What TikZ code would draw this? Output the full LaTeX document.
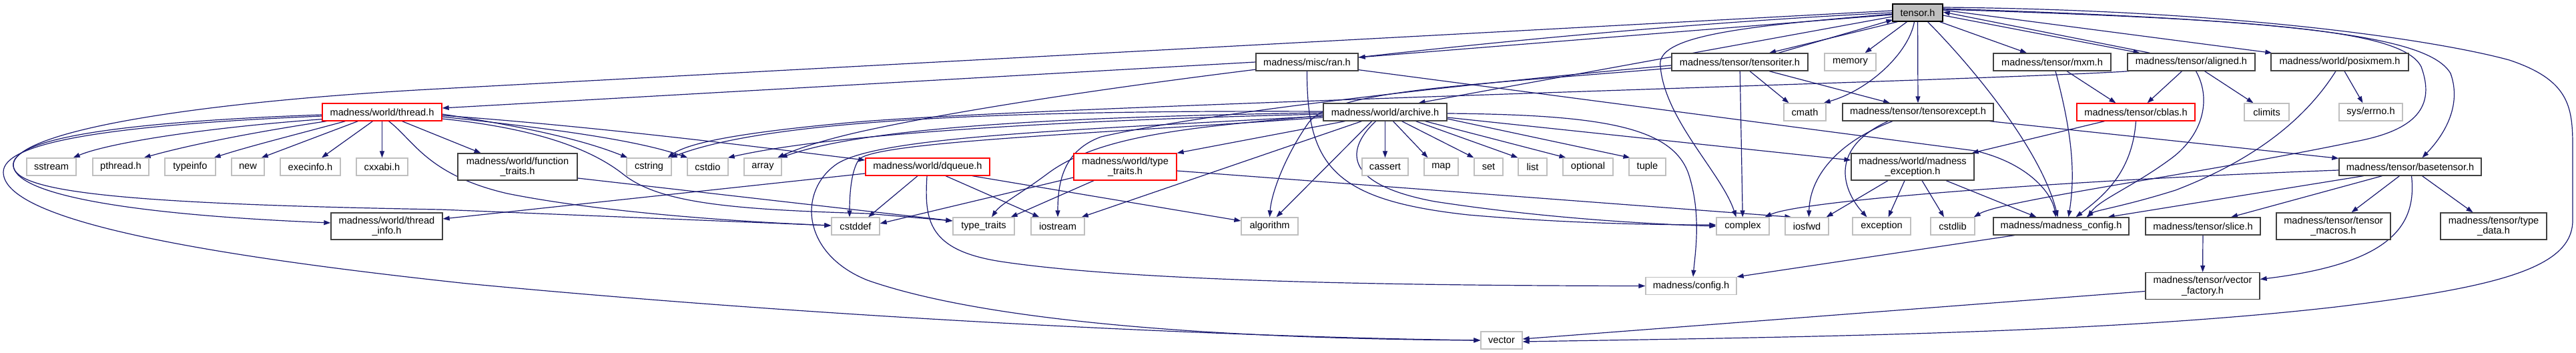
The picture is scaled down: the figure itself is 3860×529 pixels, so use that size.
\documentclass[tikz,border=0pt]{standalone}
\usepackage{fontspec}
\setmainfont{Liberation Sans}
\usetikzlibrary{arrows.meta}
\definecolor{edgeblue}{HTML}{191970}
\definecolor{greyA}{HTML}{404040}
\definecolor{greyB}{HTML}{BFBFBF}
\pgfdeclarelayer{bg}
\pgfsetlayers{bg,main}
\tikzset{
  nd/.style={rectangle, inner sep=0pt, align=center, fill=white, line width=1.3pt,
    font=\fontsize{14.6}{15.5}\selectfont},
  nodeDoc/.style={nd, draw=greyA},
  nodeExt/.style={nd, draw=greyB},
  nodeRed/.style={nd, draw=red},
  nodeRoot/.style={nd, draw=black, fill=greyB},
  one/.style={minimum height=26pt},
  two/.style={minimum height=40pt},
  edg/.style={draw=edgeblue, line width=1.2pt, -{Triangle[length=10pt,width=7pt]}}
}
\begin{document}
\begin{tikzpicture}[x=1pt,y=-1pt]
\useasboundingbox (0,0) rectangle (3860,529);
% row 0
\node[nodeRoot,one,minimum width=75pt] (T) at (2873.5,19) {tensor.h};
% row 1
\node[nodeDoc,one,minimum width=153pt] (ran) at (1958.5,93) {madness/misc/ran.h};
\node[nodeDoc,one,minimum width=204pt] (titer) at (2607,93) {madness/tensor/tensoriter.h};
\node[nodeExt,one,minimum width=77pt] (memory) at (2772.5,93) {memory};
\node[nodeDoc,one,minimum width=176pt] (mxm) at (3075,93) {madness/tensor/mxm.h};
\node[nodeDoc,one,minimum width=191pt] (aligned) at (3283.5,93) {madness/tensor/aligned.h};
\node[nodeDoc,one,minimum width=206pt] (posix) at (3506,93) {madness/world/posixmem.h};
% row 2
\node[nodeRed,one,minimum width=179pt] (thread) at (572.5,168) {madness/world/thread.h};
\node[nodeDoc,one,minimum width=185pt] (archive) at (2075.5,168) {madness/world/archive.h};
\node[nodeExt,one,minimum width=63pt] (cmath) at (2704.5,168) {cmath};
\node[nodeDoc,one,minimum width=226pt] (texcept) at (2874,168) {madness/tensor/tensorexcept.h};
\node[nodeRed,one,minimum width=177pt] (cblas) at (3200.5,168) {madness/tensor/cblas.h};
\node[nodeExt,one,minimum width=67pt] (climits) at (3396.5,168) {climits};
\node[nodeExt,one,minimum width=95pt] (errno) at (3552.5,168) {sys/errno.h};
% row 3
\node[nodeExt,one,minimum width=74pt] (sstream) at (77,250) {sstream};
\node[nodeExt,one,minimum width=84pt] (pthread) at (181,250) {pthread.h};
\node[nodeExt,one,minimum width=76pt] (typeinfo) at (285,250) {typeinfo};
\node[nodeExt,one,minimum width=49pt] (new) at (371.5,250) {new};
\node[nodeExt,one,minimum width=90pt] (execinfo) at (465,250) {execinfo.h};
\node[nodeExt,one,minimum width=77pt] (cxxabi) at (572.5,250) {cxxabi.h};
\node[nodeDoc,two,minimum width=179pt] (ftraits) at (775.5,250) {madness/world/function\\\_traits.h};
\node[nodeExt,one,minimum width=67pt] (cstring) at (972.5,250) {cstring};
\node[nodeExt,one,minimum width=61pt] (cstdio) at (1060.5,250) {cstdio};
\node[nodeExt,one,minimum width=56pt] (array) at (1143,250) {array};
\node[nodeRed,one,minimum width=186pt] (dqueue) at (1390,250) {madness/world/dqueue.h};
\node[nodeRed,two,minimum width=154pt] (wtt) at (1686,250) {madness/world/type\\\_traits.h};
\node[nodeExt,one,minimum width=69pt] (cassert) at (2075.5,250) {cassert};
\node[nodeExt,one,minimum width=51pt] (map) at (2159.5,250) {map};
\node[nodeExt,one,minimum width=43pt] (set) at (2230.5,250) {set};
\node[nodeExt,one,minimum width=43pt] (list) at (2296.5,250) {list};
\node[nodeExt,one,minimum width=75pt] (optional) at (2379.5,250) {optional};
\node[nodeExt,one,minimum width=55pt] (tuple) at (2468.5,250) {tuple};
\node[nodeDoc,two,minimum width=184pt] (mexc) at (2866,250) {madness/world/madness\\\_exception.h};
\node[nodeDoc,one,minimum width=213pt] (base) at (3611.5,250) {madness/tensor/basetensor.h};
% row 4
\node[nodeDoc,two,minimum width=167pt] (tinfo) at (579.5,339) {madness/world/thread\\\_info.h};
\node[nodeExt,one,minimum width=72pt] (cstddef) at (1282,339) {cstddef};
\node[nodeExt,one,minimum width=92pt] (typetraits) at (1474,339) {type\_traits};
\node[nodeExt,one,minimum width=80pt] (iostream) at (1585,339) {iostream};
\node[nodeExt,one,minimum width=85pt] (algorithm) at (1902.5,339) {algorithm};
\node[nodeExt,one,minimum width=79pt] (complex) at (2611.5,339) {complex};
\node[nodeExt,one,minimum width=65pt] (iosfwd) at (2707.5,339) {iosfwd};
\node[nodeExt,one,minimum width=87pt] (exception) at (2819.5,339) {exception};
\node[nodeExt,one,minimum width=66pt] (cstdlib) at (2926,339) {cstdlib};
\node[nodeDoc,one,minimum width=203pt] (mconfig) at (3088.5,339) {madness/madness\_config.h};
\node[nodeDoc,one,minimum width=172pt] (slice) at (3301,339) {madness/tensor/slice.h};
\node[nodeDoc,two,minimum width=171pt] (tmacros) at (3496.5,339) {madness/tensor/tensor\\\_macros.h};
\node[nodeDoc,two,minimum width=159pt] (tdata) at (3736.5,339) {madness/tensor/type\\\_data.h};
% row 5
\node[nodeExt,one,minimum width=136pt] (config) at (2534,428.5) {madness/config.h};
\node[nodeDoc,two,minimum width=171pt] (vfactory) at (3300.5,428.5) {madness/tensor/vector\\\_factory.h};
% row 6
\node[nodeExt,one,minimum width=62pt] (vector) at (2250,510) {vector};

\begin{pgfonlayer}{bg}
% tensor.h
\draw[edg] ([yshift=-3pt]T.west) -- ([yshift=7pt]ran.east);
\draw[edg] ([yshift=-6pt]T.west) -- ([xshift=50pt]archive.north);
\draw[edg] ([xshift=8pt]T.south west) -- ([xshift=44pt]titer.north);
\draw[edg] ([xshift=58pt]titer.north) -- ([xshift=1pt,yshift=3pt]T.south west);
\draw[edg] ([xshift=-16pt]T.south) -- ([xshift=22pt]memory.north);
\draw[edg] ([xshift=-5pt]T.south) .. controls (2860,80) and (2800,135) .. ([xshift=-4pt]cmath.north east);
\draw[edg] (T) -- (texcept);
\draw[edg] ([xshift=15pt]T.south) .. controls (2965,110) and (3060,230) .. ([xshift=-5pt]mconfig.north);
\draw[edg] ([xshift=-5pt]T.south east) -- ([xshift=-38pt]mxm.north);
\draw[edg] ([yshift=-4pt]T.east) -- ([xshift=-77pt]aligned.north);
\draw[edg] ([xshift=-62pt]aligned.north) -- ([yshift=1pt]T.east);
\draw[edg] ([yshift=4pt]T.east) -- ([xshift=2pt]posix.north west);
\draw[edg] ([yshift=6pt]T.east) .. controls (3450,30) and (3640,55) .. (3672,110) .. controls (3690,160) and (3660,205) .. ([xshift=18pt]base.north);
\draw[edg] ([yshift=5pt]T.east) .. controls (3400,30) and (3600,45) .. (3628,100) .. controls (3650,160) and (3620,195) .. (3530,212) .. controls (3300,260) and (3000,300) .. ([xshift=-2pt]cstdlib.north east);
\draw[edg] ([yshift=8pt]T.east) .. controls (3350,15) and (3650,60) .. (3760,90) .. controls (3850,120) and (3855,160) .. (3855,220) -- (3855,330) .. controls (3855,400) and (3750,430) .. (3500,460) .. controls (3150,500) and (2700,505) .. ([yshift=-2pt]vector.east);
\draw[edg] ([yshift=-2pt]T.west) .. controls (2600,40) and (2480,55) .. (2488,100) .. controls (2495,180) and (2580,260) .. ([xshift=-10pt]complex.north);
\draw[edg] ([yshift=3pt]T.west) -- (660,133) .. controls (300,152) and (30,195) .. (20,245) .. controls (15,285) and (150,305) .. (660,314) -- ([yshift=1pt]cstddef.west);
\draw[edg] (T.west) .. controls (2300,45) and (1600,130) .. (1300,195) .. controls (1230,210) and (1190,225) .. ([xshift=22pt]array.north);
% ran.h
\draw[edg] (ran.west) -- ([yshift=6pt]thread.east);
\draw[edg] (ran.south) .. controls (1958,250) and (2000,300) .. (2200,322) .. controls (2350,335) and (2480,337) .. ([yshift=2pt]complex.west);
\draw[edg] ([yshift=2pt]ran.south east) -- (2960,226) .. controls (3040,245) and (3075,290) .. ([xshift=-8pt]mconfig.north);
% tensoriter.h
\draw[edg] ([xshift=15pt]titer.south) -- ([xshift=-24pt]cmath.north);
\draw[edg] ([xshift=44pt]titer.south) -- ([xshift=-42pt]texcept.north);
\draw[edg] (titer) -- (complex);
\draw[edg] ([yshift=-9pt]titer.west) .. controls (2200,128) and (1995,135) .. (1960,185) .. controls (1925,235) and (1905,290) .. (algorithm.north);
\draw[edg] ([yshift=-5pt]titer.west) .. controls (2200,125) and (1800,170) .. (1650,205) .. controls (1595,225) and (1585,270) .. (iostream.north);
% aligned.h
\draw[edg] ([xshift=-14pt]aligned.south) -- ([xshift=17pt]cblas.north);
\draw[edg] ([xshift=20pt]aligned.south) -- ([xshift=-20pt]climits.north);
\draw[edg] ([xshift=7pt]aligned.south) .. controls (3315,150) and (3300,205) .. (3250,240) .. controls (3195,280) and (3145,300) .. ([xshift=40pt]mconfig.north);
\draw[edg] ([xshift=3pt]aligned.south west) .. controls (3000,120) and (1500,160) .. (1260,185) .. controls (1100,200) and (1030,215) .. ([xshift=28pt]cstring.north);
% mxm.h
\draw[edg] ([xshift=22pt]mxm.south) -- ([xshift=-30pt]cblas.north);
\draw[edg] ([xshift=5pt]mxm.south) .. controls (3105,200) and (3110,260) .. ([xshift=11pt]mconfig.north);
% posixmem.h
\draw[edg] ([xshift=7pt]posix.south) -- ([xshift=-12pt]errno.north);
\draw[edg] ([xshift=-6pt]posix.south) .. controls (3460,170) and (3390,235) .. (3260,285) .. controls (3180,310) and (3140,315) .. ([xshift=38pt]mconfig.north);
% cblas.h
\draw[edg] ([xshift=-47pt]cblas.south) -- ([xshift=-4pt]mexc.north east);
\draw[edg] (cblas.south) .. controls (3195,260) and (3150,295) .. ([xshift=22pt]mconfig.north);
% tensorexcept.h
\draw[edg] ([xshift=-6pt]texcept.south east) -- ([yshift=-1pt]base.north west);
\draw[edg] ([xshift=-38pt]texcept.south) .. controls (2760,210) and (2712,260) .. ([xshift=3pt]iosfwd.north);
\draw[edg] ([xshift=-45pt]texcept.south) .. controls (2735,225) and (2765,290) .. ([xshift=-22pt]exception.north);
% madness_exception.h
\draw[edg] ([xshift=-37pt]mexc.south) -- ([xshift=-4pt]iosfwd.north east);
\draw[edg] ([xshift=-12pt]mexc.south) -- ([xshift=10pt]exception.north);
\draw[edg] ([xshift=14pt]mexc.south) -- ([xshift=-13pt]cstdlib.north);
\draw[edg] ([xshift=50pt]mexc.south) -- ([xshift=-37pt]mconfig.north);
% archive.h
\draw[edg] (archive) -- (cassert);
\draw[edg] ([xshift=12pt]archive.south) -- ([xshift=-20pt]map.north);
\draw[edg] ([xshift=25pt]archive.south) -- ([xshift=-22pt]set.north);
\draw[edg] ([xshift=46pt]archive.south) -- ([xshift=-22pt]list.north);
\draw[edg] ([xshift=60pt]archive.south) -- ([xshift=-33pt]optional.north);
\draw[edg] ([yshift=-10pt]archive.east) -- ([xshift=-26pt]tuple.north);
\draw[edg] ([yshift=-8pt]archive.east) -- ([yshift=10pt]mexc.west);
\draw[edg] ([yshift=-2pt]archive.east) .. controls (2400,172) and (2505,190) .. (2530,260) .. controls (2550,320) and (2540,380) .. ([xshift=3pt]config.north);
\draw[edg] ([xshift=-60pt]archive.south) -- (wtt.north east);
\draw[edg] ([xshift=-35pt]archive.south) -- ([xshift=-5pt]iostream.north east);
\draw[edg] ([xshift=-20pt]archive.south) -- ([xshift=10pt]algorithm.north);
\draw[edg] ([xshift=-14pt]archive.south) .. controls (2020,220) and (2005,275) .. (2150,302) .. controls (2300,325) and (2450,335) .. (complex.west);
\draw[edg] ([yshift=-6pt]archive.west) .. controls (1600,195) and (1320,205) .. (1255,245) .. controls (1195,285) and (1200,380) .. (1300,420) .. controls (1500,490) and (1900,508) .. (vector.west);
\draw[edg] ([yshift=-8pt]archive.west) .. controls (1650,200) and (1320,212) .. (1288,238) .. controls (1274,255) and (1273,300) .. ([xshift=-9pt]cstddef.north);
\draw[edg] ([yshift=-3pt]archive.west) .. controls (1600,180) and (1250,200) .. ([xshift=-1pt]cstdio.north east);
\draw[edg] ([yshift=-1pt]archive.west) .. controls (1600,175) and (1300,190) .. ([xshift=-2pt]array.north east);
\draw[edg] ([yshift=1pt]archive.west) .. controls (1500,165) and (1150,180) .. ([xshift=32pt]cstring.north);
\draw[edg] ([yshift=-5pt]archive.west) .. controls (1800,190) and (1650,200) .. (1570,260) .. controls (1530,290) and (1500,305) .. ([xshift=12pt]typetraits.north);
% type_traits.h
\draw[edg] ([yshift=-16pt]wtt.west) -- ([yshift=4pt]cstddef.east);
\draw[edg] ([xshift=-47pt]wtt.south) -- ([xshift=-6pt]typetraits.north east);
\draw[edg] ([yshift=-6pt]wtt.east) -- ([xshift=10pt]iosfwd.north west);
% dqueue.h
\draw[edg] ([xshift=-15pt]dqueue.south) -- ([xshift=19pt]cstddef.north);
\draw[edg] ([yshift=-10pt]dqueue.west) -- ([yshift=11pt]tinfo.east);
\draw[edg] ([xshift=-1pt]dqueue.south) .. controls (1385,330) and (1390,375) .. (1500,392) .. controls (1700,422) and (2100,428) .. (config.west);
\draw[edg] ([xshift=27pt]dqueue.south) -- ([xshift=13pt]iostream.north west);
\draw[edg] ([xshift=67pt]dqueue.south) -- ([yshift=8pt]algorithm.west);
% thread.h
\draw[edg] ([yshift=3pt]thread.south west) .. controls (300,192) and (160,215) .. ([xshift=-5pt]sstream.north east);
\draw[edg] ([xshift=7pt]thread.south west) .. controls (380,198) and (280,218) .. ([xshift=-8pt]pthread.north east);
\draw[edg] ([xshift=35pt]thread.south west) .. controls (450,200) and (370,220) .. ([xshift=-3pt]typeinfo.north east);
\draw[edg] ([xshift=54pt]thread.south west) -- ([xshift=-5pt]new.north east);
\draw[edg] ([xshift=-14pt]thread.south) -- ([xshift=17pt]execinfo.north);
\draw[edg] (thread) -- (cxxabi);
\draw[edg] ([xshift=30pt]thread.south) -- ([xshift=-55pt]ftraits.north);
\draw[edg] ([yshift=-3pt]thread.east) .. controls (800,192) and (880,212) .. ([xshift=2pt]cstring.north west);
\draw[edg] ([yshift=-7pt]thread.east) .. controls (850,195) and (960,212) .. ([xshift=1pt]cstdio.north west);
\draw[edg] ([yshift=-5pt]thread.east) .. controls (900,190) and (1150,222) .. ([yshift=10pt]dqueue.west);
\draw[edg] ([xshift=10pt]thread.south) .. controls (620,210) and (640,262) .. (760,290) .. controls (900,318) and (1100,332) .. ([yshift=1pt]cstddef.west);
\draw[edg] ([yshift=-10pt]thread.east) .. controls (800,192) and (885,222) .. (935,262) .. controls (990,305) and (1100,314) .. (1300,320) -- ([yshift=8pt]typetraits.west);
\draw[edg] ([yshift=-4pt]thread.west) .. controls (200,182) and (25,205) .. (20,245) .. controls (15,292) and (200,322) .. ([yshift=5pt]tinfo.west);
\draw[edg] ([yshift=-6pt]thread.west) .. controls (150,188) and (5,215) .. (5,258) .. controls (5,330) and (300,382) .. (700,425) .. controls (1300,482) and (1900,506) .. (vector.west);
% function_traits.h
\draw[edg] ([yshift=-17pt]ftraits.east) -- ([yshift=8pt]typetraits.west);
% basetensor.h
\draw[edg] ([xshift=-42pt]base.south) -- ([xshift=42pt]slice.north);
\draw[edg] ([xshift=-16pt]base.south) -- ([xshift=27pt]tmacros.north);
\draw[edg] ([xshift=18pt]base.south) -- ([xshift=-31pt]tdata.north);
\draw[edg] ([xshift=2pt]base.south) .. controls (3622,340) and (3580,395) .. ([yshift=10pt]vfactory.east);
\draw[edg] ([yshift=-5pt]base.west) .. controls (3100,270) and (2700,300) .. ([xshift=33pt]complex.north);
\draw[edg] ([xshift=-70pt]base.south) -- ([xshift=70pt]mconfig.north);
% others
\draw[edg] (slice) -- (vfactory);
\draw[edg] ([yshift=-8pt]vfactory.west) -- ([yshift=2pt]vector.east);
\draw[edg] ([xshift=-70pt]mconfig.south) -- (config.north east);
\end{pgfonlayer}
\end{tikzpicture}
\end{document}
